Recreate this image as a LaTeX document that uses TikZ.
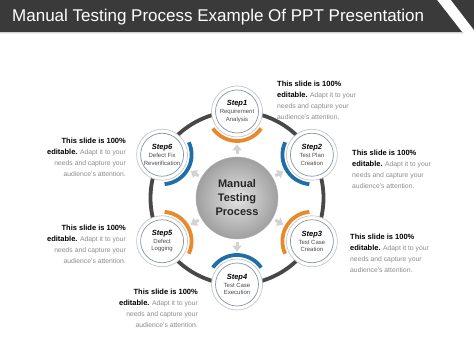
\documentclass[tikz,border=0pt]{standalone}
\usepackage{fontspec}
\setmainfont{Liberation Sans}
\usetikzlibrary{arrows.meta}
\definecolor{barc}{HTML}{3A3A3A}
\definecolor{ringc}{HTML}{484848}
\definecolor{orgc}{HTML}{E8892B}
\definecolor{bluc}{HTML}{1F6EA6}
\definecolor{txtg}{HTML}{8C8C8C}
\definecolor{innerc}{HTML}{8796A3}
\tikzset{
  stepnode/.style={circle, minimum size=51pt, inner sep=0pt, draw=gray!45, line width=0.7pt,
    fill=white, align=center, text=black!70, font=\fontsize{6}{7.2}\selectfont},
  innerring/.style={draw=innerc, line width=0.7pt},
  orgarc/.style={draw=orgc, line width=3.8pt},
  bluarc/.style={draw=bluc, line width=3.8pt},
  ringline/.style={draw=ringc, line width=3.8pt},
  arr/.style={draw=gray!35, line width=3pt, -{Triangle[length=6pt,width=9pt]},
    shorten <=3pt, shorten >=7pt},
  desc/.style={inner sep=0pt, font=\fontsize{6.8}{11}\selectfont, text=txtg},
  hub/.style={circle, minimum size=82pt, inner sep=0pt, inner color=gray!22, outer color=gray!75,
    draw=gray!60, line width=0.4pt, align=center, text=black!85,
    font=\fontsize{11}{14}\selectfont\bfseries},
  titlebar/.style={fill=barc},
}
\newcommand{\bt}{\fontsize{7.5}{11}\selectfont\bfseries\color{black}}
\newcommand{\stp}[1]{{\fontsize{7.5}{9}\selectfont\bfseries\itshape\color{black}#1}}
\begin{document}
\begin{tikzpicture}[x=1pt,y=1pt]
\useasboundingbox (0,0) rectangle (474,355);
\fill[white] (0,0) rectangle (474,355);
% title bar
\fill[gray!35] (0,321.5) -- (462.5,321.5) -- (464,323) -- (0,323) -- cycle;
\fill[titlebar] (0,355) -- (437,355) -- (462,323) -- (0,323) -- cycle;
\fill[titlebar] (451,355) -- (474,355) -- (474,325) -- cycle;
\node[anchor=west, text=white, inner sep=0pt, font=\fontsize{17}{19}\selectfont] (title) at (12,338) {Manual Testing Process Example Of PPT Presentation};
% ring
\coordinate (C) at (237,157);
\draw[ringline] (C) circle (86.5);
% hub
\node[hub] (hub) at (C) {Manual\\Testing\\Process};
% steps
\node[stepnode] (s1) at ([shift={(90:86.5)}]C) {\stp{Step1}\\[1pt]Requirement\\Analysis};
\node[stepnode] (s2) at ([shift={(30:86.5)}]C) {\stp{Step2}\\[1pt]Test Plan\\Creation};
\node[stepnode] (s3) at ([shift={(-30:86.5)}]C) {\stp{Step3}\\[1pt]Test Case\\Creation};
\node[stepnode] (s4) at ([shift={(-90:86.5)}]C) {\stp{Step4}\\[1pt]Test Case\\Execution};
\node[stepnode] (s5) at ([shift={(210:86.5)}]C) {\stp{Step5}\\[1pt]Defect\\Logging};
\node[stepnode] (s6) at ([shift={(150:86.5)}]C) {\stp{Step6}\\[1pt]Defect Fix\\Reverification};
\foreach \s in {s1,s2,s3,s4,s5,s6}{
  \draw[innerring] (\s.center) circle (21.5);
  \draw[arr] (hub) -- (\s);
}
% colored arcs
\draw[orgarc] ([shift={(215:29.5)}]s1.center) arc[start angle=215, end angle=325, radius=29.5];
\draw[bluarc] ([shift={(155:29.5)}]s2.center) arc[start angle=155, end angle=265, radius=29.5];
\draw[orgarc] ([shift={(95:29.5)}]s3.center) arc[start angle=95, end angle=205, radius=29.5];
\draw[bluarc] ([shift={(35:29.5)}]s4.center) arc[start angle=35, end angle=145, radius=29.5];
\draw[orgarc] ([shift={(335:29.5)}]s5.center) arc[start angle=335, end angle=445, radius=29.5];
\draw[bluarc] ([shift={(275:29.5)}]s6.center) arc[start angle=275, end angle=385, radius=29.5];
% descriptions
\node[desc, anchor=north west, align=left] (t1) at (277,274) {{\bt This slide is 100\%}\\{\bt editable.} Adapt it to your\\needs and capture your\\audience's attention.};
\node[desc, anchor=north east, align=right] (t6) at (126,217) {{\bt This slide is 100\%}\\{\bt editable.} Adapt it to your\\needs and capture your\\audience's attention.};
\node[desc, anchor=north west, align=left] (t2) at (352,205) {{\bt This slide is 100\%}\\{\bt editable.} Adapt it to your\\needs and capture your\\audience's attention.};
\node[desc, anchor=north east, align=right] (t5) at (126,130) {{\bt This slide is 100\%}\\{\bt editable.} Adapt it to your\\needs and capture your\\audience's attention.};
\node[desc, anchor=north west, align=left] (t3) at (350,121) {{\bt This slide is 100\%}\\{\bt editable.} Adapt it to your\\needs and capture your\\audience's attention.};
\node[desc, anchor=north east, align=right] (t4) at (198,66) {{\bt This slide is 100\%}\\{\bt editable.} Adapt it to your\\needs and capture your\\audience's attention.};
\end{tikzpicture}
\end{document}
